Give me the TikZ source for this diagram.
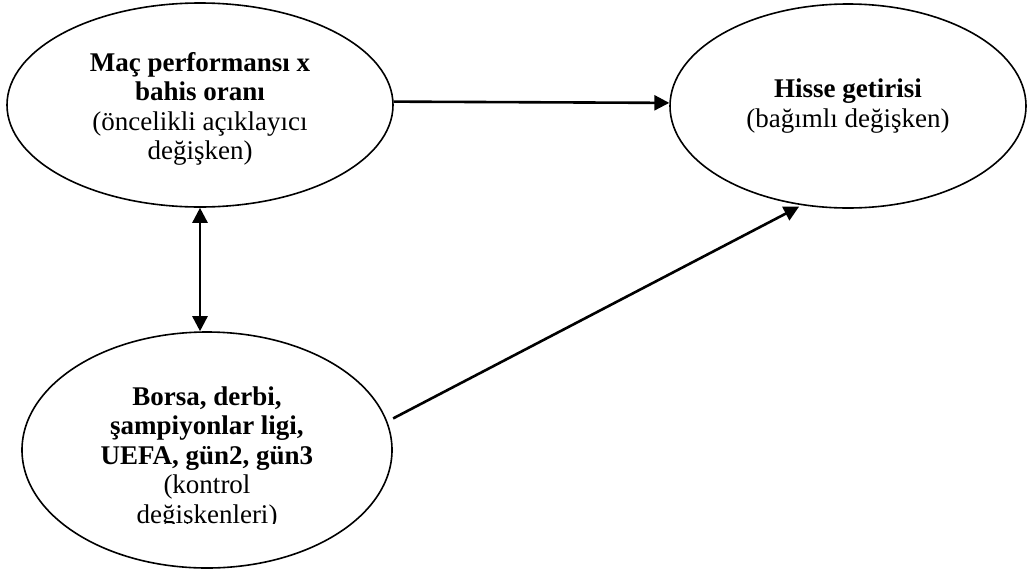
\documentclass[tikz,border=0pt]{standalone}
\usepackage{fontspec}
\setmainfont{Liberation Serif}
\usetikzlibrary{shapes.geometric,arrows.meta,calc}
\tikzset{
  oval/.style={ellipse, draw, line width=1.6pt, inner sep=0pt},
  lbl/.style={align=center, font=\fontsize{27}{29.5}\selectfont, inner sep=0pt},
  arr/.style={line width=2.6pt, -{Triangle[length=15pt,width=15pt]}},
  darr/.style={line width=2.6pt, {Triangle[length=15pt,width=15pt]}-{Triangle[length=15pt,width=15pt]}}
}
\begin{document}
\begin{tikzpicture}[x=1pt,y=-1pt]
\useasboundingbox (0,0) rectangle (1027,574);
\node[oval, minimum width=386pt, minimum height=204pt, lbl] (a) at (200,105)
  {\rule{0pt}{27pt}\textbf{Maç performansı x}\\\textbf{bahis oranı}\\(öncelikli açıklayıcı\\değişken)};
\node[oval, minimum width=356pt, minimum height=204pt, lbl] (c) at (848,106)
  {\textbf{Hisse getirisi}\\(bağımlı değişken)};
\node[oval, minimum width=370pt, minimum height=236pt] (b) at (207,450) {};
\begin{scope}
  \clip (0,0) rectangle (1027,523);
  \node[lbl] (btext) at (207,458)
    {\textbf{Borsa, derbi,}\\\textbf{şampiyonlar ligi,}\\\textbf{UEFA, gün2, gün3}\\(kontrol\\değişkenleri)};
\end{scope}
\draw[arr] (a.1) -- (c.179);
\draw[darr] (a.south) -- (a.south |- b.north);
\draw[arr, shorten >=3pt] ($(b.10)+(7,0)$) -- (c.245);
\end{tikzpicture}
\end{document}
